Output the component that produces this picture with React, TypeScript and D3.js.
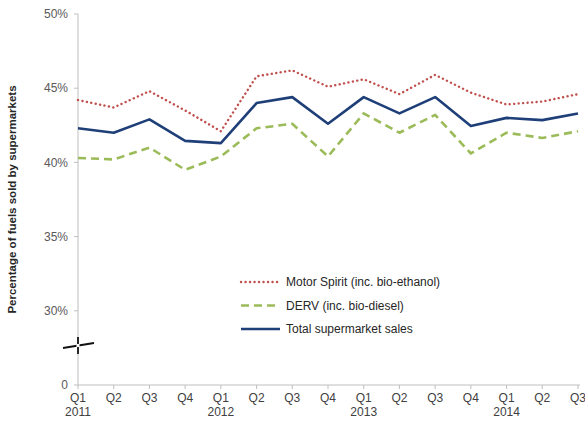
import React from "react";
import * as d3 from "d3";

const quarters = ["Q1", "Q2", "Q3", "Q4", "Q1", "Q2", "Q3", "Q4", "Q1", "Q2", "Q3", "Q4", "Q1", "Q2", "Q3"];
const years = ["2011", "", "", "", "2012", "", "", "", "2013", "", "", "", "2014", "", ""];
const motorSpirit = [44.2, 43.7, 44.8, 43.5, 42.1, 45.8, 46.2, 45.1, 45.6, 44.6, 45.9, 44.7, 43.9, 44.1, 44.6];
const derv = [40.3, 40.2, 41.0, 39.5, 40.4, 42.3, 42.6, 40.4, 43.3, 42.0, 43.2, 40.6, 42.0, 41.65, 42.1];
const total = [42.3, 42.0, 42.9, 41.45, 41.3, 44.0, 44.4, 42.6, 44.4, 43.3, 44.4, 42.45, 43.0, 42.85, 43.3];
const yTicks = [25, 30, 35, 40, 45, 50];
const yTickLabels = ["0", "30%", "35%", "40%", "45%", "50%"];
const seriesNames = ["Motor Spirit (inc. bio-ethanol)", "DERV (inc. bio-diesel)", "Total supermarket sales"];

const W = 585;
const H = 421;
const left = 78;
const right = 578;
const top = 14;
const bottom = 385;

export default function App() {
  const x = d3.scaleLinear().domain([0, quarters.length - 1]).range([left, right]);
  const y = d3.scaleLinear().domain([25, 50]).range([bottom, top]);
  const line = d3
    .line<number>()
    .x((_, i) => x(i))
    .y((d) => y(d));

  const styles = [
    { data: motorSpirit, color: "#c0504d", width: 2.4, dash: "0.1 4.4", cap: "round" as const },
    { data: derv, color: "#9bbb59", width: 2.6, dash: "8 5", cap: "butt" as const },
    { data: total, color: "#1f3f78", width: 2.6, dash: undefined, cap: "butt" as const },
  ];

  const font = "Arial, 'Liberation Sans', sans-serif";
  const breakY = 346;

  return (
    <div style={{ position: "absolute", left: 0, top: 0 }}>
      <svg width={W} height={H} style={{ display: "block", background: "#fff" }}>
        {/* axes */}
        <line x1={left} x2={left} y1={top} y2={bottom} stroke="#bfbfbf" strokeWidth={1} />
        <line x1={left} x2={right + 2} y1={bottom} y2={bottom} stroke="#bfbfbf" strokeWidth={1} />
        {yTicks.map((t, i) => (
          <g key={"yt" + i}>
            <line x1={left - 4} x2={left} y1={y(t)} y2={y(t)} stroke="#bfbfbf" />
            <text
              x={68}
              y={y(t)}
              dy="0.35em"
              textAnchor="end"
              fontFamily={font}
              fontSize={12}
              fill="#595959"
            >
              {yTickLabels[i]}
            </text>
          </g>
        ))}
        {quarters.map((q, i) => (
          <g key={"xt" + i}>
            <line x1={x(i)} x2={x(i)} y1={bottom} y2={bottom + 4} stroke="#bfbfbf" />
            <text x={x(i)} y={402} textAnchor="middle" fontFamily={font} fontSize={12} fill="#404040">
              {q}
            </text>
            {years[i] && (
              <text x={x(i)} y={416} textAnchor="middle" fontFamily={font} fontSize={12} fill="#404040">
                {years[i]}
              </text>
            )}
          </g>
        ))}
        {/* axis break */}
        <g stroke="#111" strokeWidth={1.8} fill="none">
          <path d={`M${left - 15},${breakY + 2} L${left + 16},${breakY - 3}`} />
          <path d={`M${left},${breakY - 8} L${left},${breakY + 8}`} stroke="#fff" strokeWidth={3} />
          <path d={`M${left},${breakY - 9} L${left},${breakY - 2}`} />
          <path d={`M${left},${breakY + 1} L${left},${breakY + 8}`} />
        </g>
        {/* y title */}
        <text
          transform={`translate(16,${(top + bottom) / 2}) rotate(-90)`}
          textAnchor="middle"
          fontFamily={font}
          fontSize={11.5}
          fontWeight="bold"
          fill="#262626"
        >
          Percentage of fuels sold by supermarkets
        </text>
        {/* series */}
        {styles.map((s, i) => (
          <path
            key={"s" + i}
            d={line(s.data) || ""}
            fill="none"
            stroke={s.color}
            strokeWidth={s.width}
            strokeDasharray={s.dash}
            strokeLinecap={s.cap}
            strokeLinejoin="round"
          />
        ))}
        {/* legend */}
        {styles.map((s, i) => {
          const ly = 282 + i * 23.5;
          return (
            <g key={"lg" + i}>
              <line
                x1={241}
                x2={280}
                y1={ly}
                y2={ly}
                stroke={s.color}
                strokeWidth={s.width}
                strokeDasharray={s.dash}
                strokeLinecap={s.cap}
              />
              <text x={286} y={ly} dy="0.35em" fontFamily={font} fontSize={12} fill="#262626">
                {seriesNames[i]}
              </text>
            </g>
          );
        })}
      </svg>
    </div>
  );
}
